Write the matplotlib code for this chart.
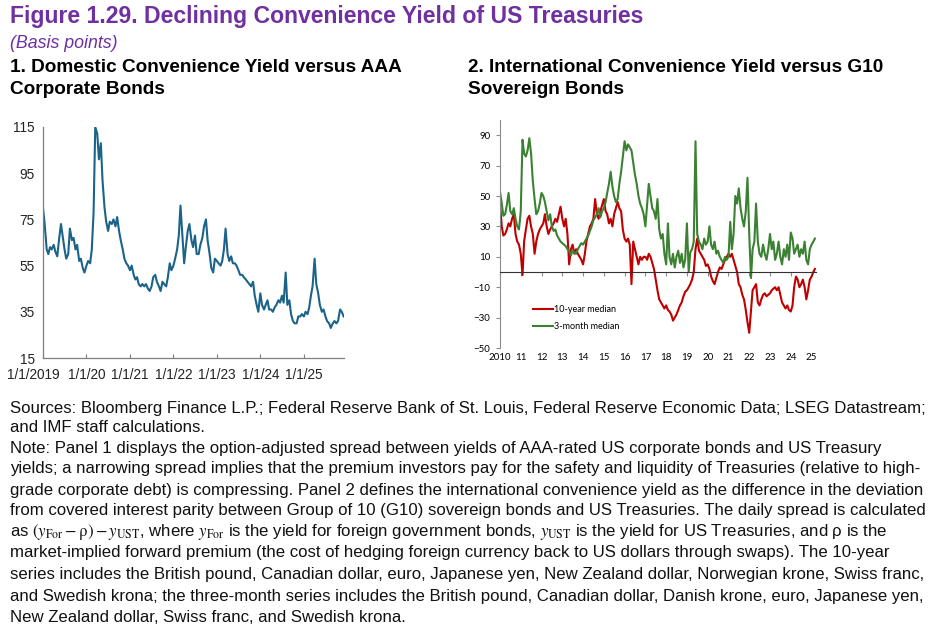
import matplotlib
matplotlib.use("Agg")
import matplotlib.pyplot as plt
import matplotlib.transforms as mtransforms
import pandas as pd
import numpy as np

plt.rcParams['font.family'] = ['Liberation Sans', 'DejaVu Sans']
plt.rcParams['mathtext.fontset'] = 'stix'

# ---------------- Panel 1 data (semi-monthly, from 1 Jan 2019) ----------------
p1_2019 = [80, 73, 62, 60, 63, 62, 64, 61, 59, 66, 73, 68, 62, 58, 60, 71, 66, 67, 62, 64, 57, 58, 54, 52]
p1_2020 = [55, 57, 56, 62, 78, 115, 112, 101, 108, 92, 80, 74, 70, 74, 73, 75, 72, 76, 70, 66, 62, 58, 56, 55]
p1_2021 = [53, 55, 51, 49, 50, 47, 46, 47, 46, 47, 45, 44, 46, 50, 51, 48, 46, 44, 48, 47, 46, 50, 56, 53]
p1_2022 = [55, 58, 62, 68, 81, 70, 56, 63, 70, 73, 66, 63, 68, 60, 60, 64, 67, 72, 75, 66, 60, 54, 52, 58]
p1_2023 = [57, 56, 55, 57, 62, 71, 60, 57, 59, 56, 56, 55, 53, 51, 51, 50, 49, 48, 47, 46, 48, 42, 38, 35]
p1_2024 = [43, 38, 36, 38, 40, 36, 36, 35, 37, 38, 40, 39, 42, 39, 52, 38, 40, 34, 31, 30, 30, 33, 33, 34]
p1_2025 = [33, 35, 34, 37, 42, 46, 58, 47, 43, 38, 35, 36, 33, 31, 30, 28, 30, 31, 30, 31, 36, 35, 33]
domestic = p1_2019 + p1_2020 + p1_2021 + p1_2022 + p1_2023 + p1_2024 + p1_2025
p1_ticks = ["2019-01-01", "2020-01-01", "2021-01-01", "2022-01-01", "2023-01-01", "2024-01-01", "2025-01-01"]
p1_ticklabels = ["1/1/2019", "1/1/20", "1/1/21", "1/1/22", "1/1/23", "1/1/24", "1/1/25"]

# ---------------- Panel 2 data (monthly, from Jan 2010) ----------------
red_years = {
    2010: [45, 30, 24, 25, 28, 32, 30, 35, 38, 25, 20, 18],
    2011: [12, -2, 20, 28, 35, 37, 30, 25, 12, 20, 25, 28],
    2012: [30, 32, 38, 30, 25, 28, 30, 32, 35, 33, 38, 43],
    2013: [35, 30, 35, 25, 5, 15, 18, 12, 15, 12, 10, 8],
    2014: [5, 12, 20, 25, 30, 32, 35, 48, 38, 35, 40, 44],
    2015: [48, 40, 38, 32, 35, 30, 38, 42, 46, 42, 40, 28],
    2016: [22, 20, 22, 18, -8, 20, 15, 10, 5, 10, 8, 10],
    2017: [10, 8, 12, 10, 6, 2, -5, -12, -18, -20, -22, -24],
    2018: [-22, -25, -26, -28, -32, -30, -28, -25, -22, -20, -16, -13],
    2019: [-12, -10, -8, -5, 0, 15, 22, 14, 12, 10, 8, 4],
    2020: [5, 2, -3, -6, -8, -4, 0, 3, 2, 5, 8, 10],
    2021: [12, 10, 12, 8, 4, 0, -8, -10, -15, -18, -25, -33],
    2022: [-40, -25, -12, -10, -8, -20, -22, -18, -15, -14, -16, -15],
    2023: [-14, -12, -11, -10, -12, -10, -15, -20, -22, -24, -22, -25],
    2024: [-26, -22, -10, -3, -5, -10, -8, -5, -10, -18, -12, -5],
    2025: [-3, 0, 2],
}
green_years = {
    2010: [53, 45, 37, 38, 44, 52, 40, 38, 42, 35, 30, 28],
    2011: [40, 87, 78, 76, 80, 88, 78, 60, 48, 38, 40, 45],
    2012: [52, 50, 46, 40, 34, 38, 30, 27, 28, 24, 22, 20],
    2013: [19, 18, 17, 15, 14, 11, 14, 13, 12, 15, 17, 19],
    2014: [18, 20, 22, 24, 27, 30, 34, 36, 38, 42, 36, 40],
    2015: [42, 46, 52, 58, 66, 56, 50, 46, 48, 58, 66, 76],
    2016: [86, 80, 84, 82, 80, 72, 64, 58, 50, 45, 42, 38],
    2017: [30, 45, 58, 50, 42, 40, 35, 48, 28, 22, 25, 12],
    2018: [5, 32, 10, 5, 12, 3, 10, 14, 6, 12, 3, 8],
    2019: [32, 0, 13, 15, 20, 86, 25, 20, 18, 15, 22, 18],
    2020: [20, 30, 18, 15, 20, 12, 14, 10, 8, 6, 10, 8],
    2021: [10, 33, 15, 25, 50, 45, 55, 42, 35, 30, 40, 62],
    2022: [25, -4, 15, 20, 45, 20, 12, 10, 18, 12, 8, 15],
    2023: [25, 15, 20, 8, 12, 20, 10, 5, 15, 10, 18, 8],
    2024: [26, 22, 12, 15, 18, 10, 15, 12, 20, 8, 5, 15],
    2025: [18, 20, 22],
}
ten_year = [v for y in sorted(red_years) for v in red_years[y]]
three_month = [v for y in sorted(green_years) for v in green_years[y]]
p2_years = list(range(2010, 2026))
p2_ticklabels = ["2010"] + [f"{y % 100:02d}" for y in p2_years[1:]]

# ---------------- Figure ----------------
fig = plt.figure(figsize=(9.34, 6.33), dpi=100)
W, H = 934, 633

def fx(px):
    return px / W

def fy(py):
    return 1 - py / H

purple = '#7030A0'
fig.text(fx(10), fy(16), "Figure 1.29. Declining Convenience Yield of US Treasuries",
         fontsize=16.6, fontweight='bold', color=purple, va='center', ha='left')
fig.text(fx(10), fy(43), "(Basis points)", fontsize=12.8, style='italic', color=purple,
         va='center', ha='left')
fig.text(fx(10), fy(67), "1. Domestic Convenience Yield versus AAA", fontsize=13.7,
         fontweight='bold', va='center', ha='left')
fig.text(fx(10), fy(89), "Corporate Bonds", fontsize=13.7, fontweight='bold', va='center', ha='left')
fig.text(fx(468), fy(67), "2. International Convenience Yield versus G10", fontsize=13.7,
         fontweight='bold', va='center', ha='left')
fig.text(fx(468), fy(89), "Sovereign Bonds", fontsize=13.7, fontweight='bold', va='center', ha='left')

# Panel 1
ax1 = fig.add_axes([fx(43), fy(358), fx(344) - fx(43), fy(127) - fy(358)])
d1 = pd.date_range("2019-01-01", periods=len(domestic), freq="SMS")
ax1.plot(d1, domestic, color='#1B6389', lw=1.5)
ax1.set_ylim(15, 115)
ax1.set_yticks(range(15, 116, 20))
ax1.set_xlim(pd.Timestamp("2019-01-01"), d1[-1] + pd.Timedelta(days=3))
ax1.set_xticks(pd.to_datetime(p1_ticks))
ax1.set_xticklabels(p1_ticklabels)
for s in ['top', 'right']:
    ax1.spines[s].set_visible(False)
for s in ['left', 'bottom']:
    ax1.spines[s].set_color('#7f7f7f')
    ax1.spines[s].set_linewidth(0.9)
ax1.tick_params(axis='both', labelsize=9.8, color='#7f7f7f', direction='in', length=3, colors='#222222')
ax1.tick_params(axis='y', direction='out', length=0, pad=6)
ax1.tick_params(axis='x', pad=7)
first = ax1.get_xticklabels()[0]
first.set_transform(first.get_transform() + mtransforms.ScaledTranslation(-10 / 100, 0, fig.dpi_scale_trans))

# Panel 2
ax2 = fig.add_axes([fx(500), fy(348), fx(816) - fx(500), fy(120) - fy(348)])
d2 = pd.date_range("2010-01-01", periods=len(ten_year), freq="MS")
ax2.plot(d2, ten_year, color='#C00000', lw=1.5, label='10-year median')
ax2.plot(d2, three_month, color='#3B8132', lw=1.5, label='3-month median')
ax2.set_ylim(-50, 100)
ax2.set_yticks(range(-50, 91, 20))
ax2.set_xlim(pd.Timestamp("2010-01-01"), pd.Timestamp("2025-03-20"))
ax2.set_xticks([pd.Timestamp(f"{y}-01-01") for y in p2_years])
ax2.set_xticklabels(p2_ticklabels)
for s in ['top', 'right']:
    ax2.spines[s].set_visible(False)
ax2.spines['left'].set_color('#8c8c8c')
ax2.spines['bottom'].set_position(('data', 0))
ax2.spines['bottom'].set_color('#333333')
ax2.spines['bottom'].set_linewidth(0.8)
ax2.tick_params(axis='y', labelsize=7, direction='out', length=3, color='#8c8c8c', pad=4)
ax2.tick_params(axis='x', labelsize=7, direction='out', length=3, color='#8c8c8c', pad=55)
for lab in ax2.get_xticklabels() + ax2.get_yticklabels():
    lab.set_family(['Lato', 'DejaVu Sans'])
leg = ax2.legend(loc='upper left', bbox_to_anchor=(0.105, 0.19), frameon=False,
                 fontsize=6.5, handlelength=2.2, handletextpad=0.1, labelspacing=0.9,
                 borderaxespad=0, borderpad=0)
for t in leg.get_texts():
    t.set_family(['Lato', 'DejaVu Sans'])

# Notes
notes = [
    "Sources: Bloomberg Finance L.P.; Federal Reserve Bank of St. Louis, Federal Reserve Economic Data; LSEG Datastream;",
    "and IMF staff calculations.",
    "Note: Panel 1 displays the option-adjusted spread between yields of AAA-rated US corporate bonds and US Treasury",
    "yields; a narrowing spread implies that the premium investors pay for the safety and liquidity of Treasuries (relative to high-",
    "grade corporate debt) is compressing. Panel 2 defines the international convenience yield as the difference in the deviation",
    "from covered interest parity between Group of 10 (G10) sovereign bonds and US Treasuries. The daily spread is calculated",
    r"as $(y_{\mathrm{For}} - \mathrm{\rho}) - y_{\mathrm{UST}}$, where $y_{\mathrm{For}}$ is the yield for foreign government bonds, $y_{\mathrm{UST}}$ is the yield for US Treasuries, and ρ is the",
    "market-implied forward premium (the cost of hedging foreign currency back to US dollars through swaps). The 10-year",
    "series includes the British pound, Canadian dollar, euro, Japanese yen, New Zealand dollar, Norwegian krone, Swiss franc,",
    "and Swedish krona; the three-month series includes the British pound, Canadian dollar, Danish krone, euro, Japanese yen,",
    "New Zealand dollar, Swiss franc, and Swedish krona.",
]
ys = [408, 428, 449, 469, 490, 511, 532, 553, 574, 596, 617]
for t, y in zip(notes, ys):
    fig.text(fx(10), fy(y), t, fontsize=12.05, va='center', ha='left', color='#111111')

fig.savefig("out.png", dpi=100)
